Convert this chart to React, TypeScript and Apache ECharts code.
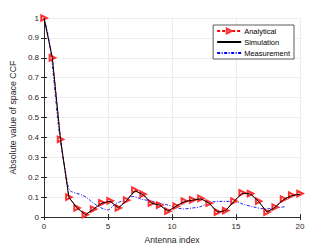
import React, { useEffect, useRef } from "react";
import * as echarts from "echarts";

const antennaIndex = [
  0, 0.65, 1.29, 1.94, 2.58, 3.23, 3.87, 4.52, 5.16, 5.81, 6.45, 7.1, 7.74, 8.39, 9.03, 9.68,
  10.32, 10.97, 11.61, 12.26, 12.9, 13.55, 14.19, 14.84, 15.48, 16.13, 16.77, 17.42, 18.06,
  18.71, 19.35, 20,
];
const analytical = [
  1.0, 0.8, 0.39, 0.1, 0.046, 0.012, 0.04, 0.072, 0.082, 0.046, 0.085, 0.135, 0.115, 0.07,
  0.06, 0.03, 0.055, 0.08, 0.087, 0.094, 0.07, 0.025, 0.033, 0.08, 0.122, 0.118, 0.08, 0.025,
  0.05, 0.09, 0.11, 0.118,
];
const simulation = [
  1.0, 0.8, 0.39, 0.1, 0.046, 0.012, 0.04, 0.07, 0.08, 0.046, 0.083, 0.132, 0.113, 0.07,
  0.06, 0.03, 0.055, 0.078, 0.085, 0.092, 0.07, 0.025, 0.033, 0.078, 0.12, 0.116, 0.078,
  0.025, 0.05, 0.088, 0.108, 0.115,
];
const measurementX = [
  0, 0.3, 0.6, 0.9, 1.1, 1.4, 1.7, 1.9, 2.1, 2.5, 3.0, 3.4, 3.7, 4.3, 4.7, 5.0, 5.3, 5.6, 6.2,
  6.9, 7.3, 7.6, 8.3, 9.1, 9.6, 10.2, 10.9, 11.5, 12.2, 12.9, 13.7, 14.8, 15.5, 16.3, 17.3,
  18.1, 18.8,
];
const measurementY = [
  1.0, 0.92, 0.79, 0.6, 0.47, 0.33, 0.22, 0.15, 0.13, 0.12, 0.11, 0.095, 0.078, 0.052, 0.04,
  0.036, 0.05, 0.068, 0.083, 0.104, 0.098, 0.09, 0.082, 0.069, 0.062, 0.05, 0.041, 0.045,
  0.052, 0.072, 0.079, 0.079, 0.066, 0.052, 0.041, 0.046, 0.052,
];
const seriesNames = ["Analytical", "Simulation", "Measurement"];
const xLabel = "Antenna index";
const yLabel = "Absolute value of space CCF";

const FONT = "'Liberation Sans', Arial, sans-serif";
const AX = "#262626";
const GRID = "#e8e8e8";

export default function App() {
  const ref = useRef<HTMLDivElement>(null);
  useEffect(() => {
    if (!ref.current) return;
    const chart = echarts.init(ref.current, undefined, { renderer: "svg" });
    const pair = (xs: number[], ys: number[]) => xs.map((x, i) => [x, ys[i]]);
    const axisLine = { show: true, lineStyle: { color: AX, width: 0.8 } };
    chart.setOption({
      animation: false,
      backgroundColor: "#fff",
      textStyle: { fontFamily: FONT },
      grid: { left: 43, right: 32, top: 18, bottom: 27 },
      legend: {
        orient: "vertical",
        right: 38,
        top: 25,
        data: [
          { name: seriesNames[0] },
          { name: seriesNames[1], itemStyle: { opacity: 0 } },
          { name: seriesNames[2], itemStyle: { opacity: 0 } },
        ],
        itemWidth: 24,
        itemHeight: 6,
        itemGap: 3,
        padding: [2, 4, 2, 3],
        borderColor: "#333",
        borderWidth: 0.8,
        backgroundColor: "#fff",
        borderRadius: 0,
        textStyle: { fontSize: 7.5, color: "#000", fontFamily: FONT, padding: [0, 0, 0, -2] },
      },
      xAxis: [
        {
          type: "value",
          min: 0,
          max: 20,
          interval: 5,
          name: xLabel,
          nameLocation: "middle",
          nameGap: 17,
          nameTextStyle: { fontSize: 8.6, color: AX, fontFamily: FONT },
          axisLine,
          axisTick: { show: true, inside: true, length: 3, lineStyle: { color: AX } },
          axisLabel: { fontSize: 8, color: AX, margin: 5, fontFamily: FONT },
          splitLine: { show: true, lineStyle: { color: GRID, width: 0.8 } },
        },
        {
          type: "value",
          position: "top",
          min: 0,
          max: 20,
          interval: 5,
          axisLine,
          axisTick: { show: true, inside: true, length: 3, lineStyle: { color: AX } },
          axisLabel: { show: false },
          splitLine: { show: false },
        },
      ],
      yAxis: [
        {
          type: "value",
          min: 0,
          max: 1,
          interval: 0.1,
          name: yLabel,
          nameLocation: "middle",
          nameGap: 20,
          nameTextStyle: { fontSize: 8.8, color: AX, fontFamily: FONT },
          axisLine,
          axisTick: { show: true, inside: true, length: 3, lineStyle: { color: AX } },
          axisLabel: { fontSize: 8, color: AX, margin: 5, fontFamily: FONT },
          splitLine: { show: true, lineStyle: { color: GRID, width: 0.8 } },
        },
        {
          type: "value",
          position: "right",
          min: 0,
          max: 1,
          interval: 0.1,
          axisLine,
          axisTick: { show: true, inside: true, length: 3, lineStyle: { color: AX } },
          axisLabel: { show: false },
          splitLine: { show: false },
        },
      ],
      series: [
        {
          name: seriesNames[0],
          type: "line",
          data: pair(antennaIndex, analytical),
          symbol: "emptyTriangle",
          symbolRotate: -90,
          symbolSize: 5.5,
          showAllSymbol: true,
          itemStyle: { color: "#ff3030", borderColor: "#ff3030", borderWidth: 0.7 },
          lineStyle: { color: "#ff0000", width: 0.9, type: [3, 2] },
          z: 3,
        },
        {
          name: seriesNames[1],
          type: "line",
          data: pair(antennaIndex, simulation),
          symbol: "none",
          itemStyle: { color: "#000" },
          lineStyle: { color: "#000", width: 1 },
          z: 4,
        },
        {
          name: seriesNames[2],
          type: "line",
          data: pair(measurementX, measurementY),
          symbol: "none",
          smooth: 0.3,
          itemStyle: { color: "#0000ff" },
          lineStyle: { color: "#0000ff", width: 0.9, type: [3, 1.5, 1, 1.5] },
          z: 2,
        },
      ],
    });
    return () => chart.dispose();
  }, []);
  return (
    <div
      ref={ref}
      style={{ position: "fixed", left: 0, top: 0, width: 332, height: 249, background: "#fff" }}
    />
  );
}
